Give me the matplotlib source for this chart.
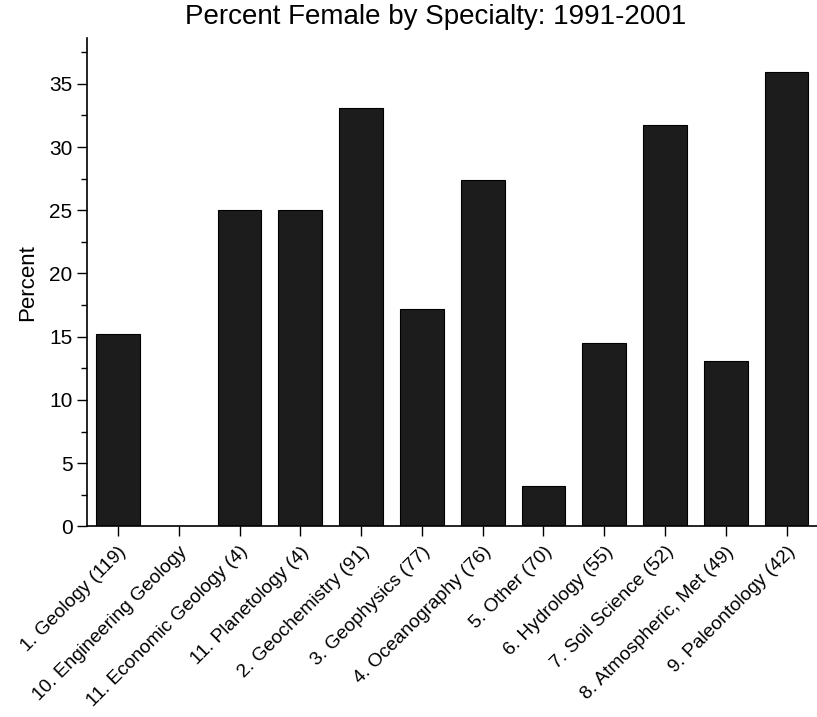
import matplotlib.pyplot as plt
import numpy as np
from matplotlib.ticker import MultipleLocator

plt.rcParams["font.family"] = ["Liberation Sans", "DejaVu Sans"]

specialties = [
    "1. Geology (119)",
    "10. Engineering Geology",
    "11. Economic Geology (4)",
    "11. Planetology (4)",
    "2. Geochemistry (91)",
    "3. Geophysics (77)",
    "4. Oceanography (76)",
    "5. Other (70)",
    "6. Hydrology (55)",
    "7. Soil Science (52)",
    "8. Atmospheric, Met (49)",
    "9. Paleontology (42)",
]
percent_female = [15.2, 0.0, 25.0, 25.0, 33.1, 17.2, 27.4, 3.2, 14.5, 31.7, 13.1, 35.9]

fig = plt.figure(figsize=(8.17, 7.17), dpi=100)
ax = fig.add_axes([0.1065, 0.2657, 0.8935, 0.681])

x = np.arange(len(specialties))
ax.bar(x, percent_female, width=0.72, color="#1c1c1c", edgecolor="#000000", linewidth=0.8)

ax.set_xlim(-0.51, 11.5)
ax.set_ylim(0, 38.6)
ax.set_xticks(x)
ax.set_xticklabels(specialties, rotation=45, ha="right", rotation_mode="anchor", fontsize=13.8)
ax.yaxis.set_major_locator(MultipleLocator(5))
ax.yaxis.set_minor_locator(MultipleLocator(2.5))
ax.tick_params(axis="y", which="major", direction="out", length=7, width=1, labelsize=15)
ax.tick_params(axis="y", which="minor", direction="out", length=4, width=1)
ax.tick_params(axis="x", which="major", direction="out", length=7, width=1, pad=5)

for side in ["top", "right"]:
    ax.spines[side].set_visible(False)
for side in ["left", "bottom"]:
    ax.spines[side].set_linewidth(1.2)

ax.set_ylabel("Percent", fontsize=16, labelpad=8)
ax.set_title("Percent Female by Specialty: 1991-2001", fontsize=20, pad=10, x=0.478)

fig.savefig("out.png", dpi=100)
